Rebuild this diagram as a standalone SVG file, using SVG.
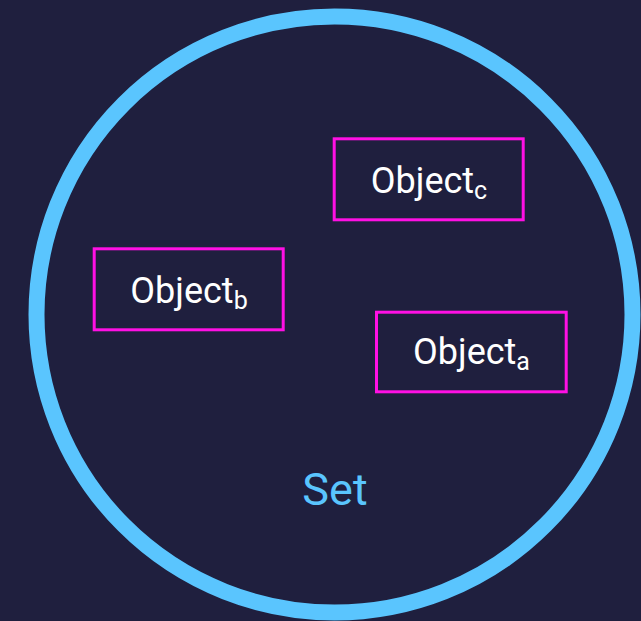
<svg xmlns="http://www.w3.org/2000/svg" width="641" height="621" viewBox="0 0 641 621">
<style>
.obj rect{fill:none;stroke:#ff10e4;stroke-width:3}
.obj text{font-family:Roboto,"Liberation Sans",sans-serif;font-size:36px;fill:#ffffff;text-anchor:middle}
.sub{font-size:25px}
</style>
<rect width="641" height="621" fill="#1f1f3e"/>
<g id="set">
<circle cx="334.5" cy="314.5" r="298" fill="none" stroke="#5ac5fe" stroke-width="16"/>
<text x="335" y="505" font-family="Roboto,'Liberation Sans',sans-serif" font-size="45" fill="#5ac5fe" text-anchor="middle">Set</text>
</g>
<g id="objc" class="obj">
<rect x="334.2" y="138.8" width="189" height="81"/>
<text x="429" y="193">Object<tspan class="sub" dy="6">c</tspan></text>
</g>
<g id="objb" class="obj">
<rect x="94.2" y="248.8" width="189" height="81"/>
<text x="189" y="303">Object<tspan class="sub" dy="6">b</tspan></text>
</g>
<g id="obja" class="obj">
<rect x="376.5" y="312.2" width="189.7" height="79.6"/>
<text x="471.5" y="364">Object<tspan class="sub" dy="6">a</tspan></text>
</g>
<g id="connectors"/>
</svg>
